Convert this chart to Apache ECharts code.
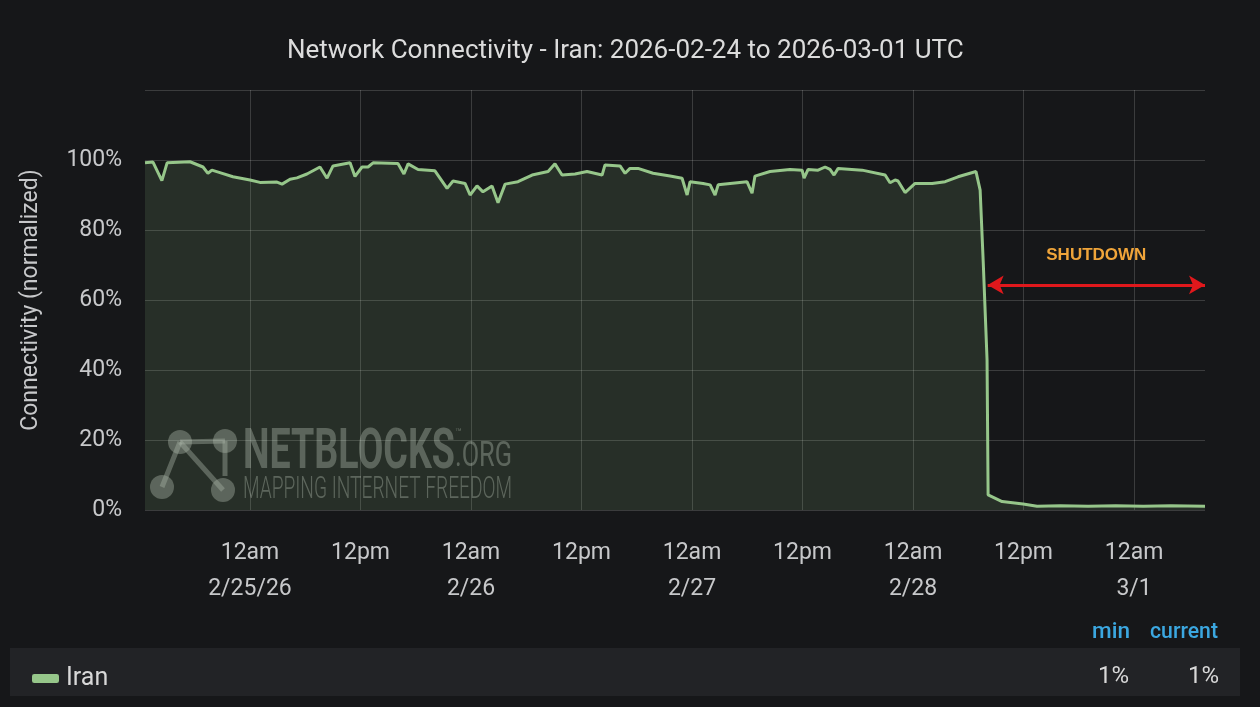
<!DOCTYPE html>
<html>
<head>
<meta charset="utf-8">
<script src="https://cdn.jsdelivr.net/npm/echarts@6/dist/echarts.min.js"></script>
<style>
  html, body { margin: 0; padding: 0; background: #161719; }
  #chart { width: 1260px; height: 707px; }
</style>
</head>
<body>
<div id="chart"></div>
<script>
// sample times (UTC) and normalized connectivity (%)
const times = [
  '2026-02-24 12:36', '2026-02-24 13:28', '2026-02-24 14:26', '2026-02-24 15:00', '2026-02-24 17:29',
  '2026-02-24 18:54', '2026-02-24 19:26', '2026-02-24 19:52', '2026-02-24 20:44', '2026-02-24 22:09',
  '2026-02-25 00:00', '2026-02-25 01:05', '2026-02-25 02:56', '2026-02-25 03:29', '2026-02-25 04:21',
  '2026-02-25 05:06', '2026-02-25 06:11', '2026-02-25 07:36', '2026-02-25 08:22', '2026-02-25 09:01',
  '2026-02-25 10:52', '2026-02-25 11:24', '2026-02-25 12:10', '2026-02-25 12:49', '2026-02-25 13:22',
  '2026-02-25 16:04', '2026-02-25 16:43', '2026-02-25 17:10', '2026-02-25 18:15', '2026-02-25 20:05',
  '2026-02-25 21:24', '2026-02-25 22:03', '2026-02-25 23:21', '2026-02-25 23:54', '2026-02-26 00:39',
  '2026-02-26 01:18', '2026-02-26 02:17', '2026-02-26 02:56', '2026-02-26 03:42', '2026-02-26 05:06',
  '2026-02-26 06:38', '2026-02-26 08:22', '2026-02-26 09:07', '2026-02-26 09:53', '2026-02-26 11:18',
  '2026-02-26 12:36', '2026-02-26 14:14', '2026-02-26 14:33', '2026-02-26 16:11', '2026-02-26 16:44',
  '2026-02-26 17:16', '2026-02-26 18:08', '2026-02-26 19:46', '2026-02-26 21:37', '2026-02-26 22:55',
  '2026-02-26 23:28', '2026-02-26 23:47', '2026-02-27 01:12', '2026-02-27 01:58', '2026-02-27 02:30',
  '2026-02-27 02:50', '2026-02-27 05:58', '2026-02-27 06:31', '2026-02-27 06:50', '2026-02-27 08:28',
  '2026-02-27 10:38', '2026-02-27 11:57', '2026-02-27 12:10', '2026-02-27 12:36', '2026-02-27 13:41',
  '2026-02-27 14:27', '2026-02-27 14:59', '2026-02-27 15:25', '2026-02-27 15:52', '2026-02-27 18:28',
  '2026-02-27 20:58', '2026-02-27 21:30', '2026-02-27 22:03', '2026-02-27 22:22', '2026-02-27 23:08',
  '2026-02-28 00:13', '2026-02-28 02:04', '2026-02-28 03:29', '2026-02-28 04:53', '2026-02-28 06:50',
  '2026-02-28 07:17', '2026-02-28 07:37', '2026-02-28 08:02', '2026-02-28 08:09', '2026-02-28 09:40',
  '2026-02-28 11:57', '2026-02-28 13:28', '2026-02-28 16:00', '2026-02-28 19:00', '2026-02-28 22:00',
  '2026-03-01 01:00', '2026-03-01 04:00', '2026-03-01 07:42'
]
const connectivity = [
  99.2, 99.4, 94.1, 99.2, 99.5, 98.0, 96.2, 97.1, 96.4, 95.2,
  94.3, 93.6, 93.7, 93.1, 94.5, 94.9, 96.0, 98.0, 94.8, 98.3,
  99.2, 95.3, 98.0, 98.0, 99.2, 99.0, 96.0, 98.9, 97.3, 96.9,
  91.9, 94.0, 93.3, 90.0, 92.6, 90.9, 92.6, 87.8, 93.1, 93.8,
  95.7, 96.7, 98.9, 95.7, 96.0, 96.7, 95.7, 98.6, 98.3, 96.2,
  97.6, 97.6, 96.2, 95.4, 94.8, 90.0, 93.8, 93.3, 92.9, 90.0,
  92.9, 93.8, 90.5, 95.4, 96.7, 97.3, 97.1, 94.8, 97.3, 97.1,
  98.0, 97.3, 95.7, 97.6, 97.1, 95.7, 93.5, 94.3, 94.0, 90.7,
  93.3, 93.3, 93.8, 95.2, 96.7, 91.4, 71.0, 43.0, 4.3, 2.4,
  1.7, 1.1, 1.2, 1.1, 1.2, 1.1, 1.2, 1.1
]
// x ticks every 12h
const tickTimes = [
  '2026-02-25 00:00', '2026-02-25 12:00', '2026-02-26 00:00', '2026-02-26 12:00', '2026-02-27 00:00',
  '2026-02-27 12:00', '2026-02-28 00:00', '2026-02-28 12:00', '2026-03-01 00:00'
]
const tickLabels = ['12am\n2/25/26', '12pm', '12am\n2/26', '12pm', '12am\n2/27', '12pm', '12am\n2/28', '12pm', '12am\n3/1']
const yTicks = [0, 20, 40, 60, 80, 100]

// shutdown annotation
const shutdownFrom = '2026-02-28 08:06'
const shutdownTo = '2026-03-01 07:42'
const shutdownLevel = 64.3

// time string (UTC) -> ms
const ts = (s) => new Date(s.replace(' ', 'T') + ':00Z').getTime()
const seriesData = times.map((t, i) => [ts(t), connectivity[i]])
const tickValues = tickTimes.map(ts)
const minVal = Math.round(Math.min(...connectivity))
const curVal = Math.round(connectivity[connectivity.length - 1])

// squeeze text horizontally to a target width (condensed look)
const ctx = document.createElement('canvas').getContext('2d')
const fitX = (text, weight, size, width) => {
  ctx.font = weight + ' ' + size + 'px Roboto'
  return width / ctx.measureText(text).width
}

const chart = echarts.init(document.getElementById('chart'))
const txt = '#c7c8ca'
const grid = 'rgba(255,255,255,0.16)'
const wm = 'rgba(170,175,170,0.42)'

const wmText = (text, x, y, weight, size, width) => ({
  type: 'text', x: x, y: y, scaleX: fitX(text, weight, size, width),
  style: { text: text, fill: wm, fontSize: size, fontWeight: weight, fontFamily: 'Roboto', verticalAlign: 'top' }
})
const headText = (text, cx, width) => ({
  type: 'text', x: cx, y: 632, scaleX: fitX(text, 500, 22, width),
  style: { text: text, fill: '#3ba7e0', fontSize: 22, fontWeight: 500, fontFamily: 'Roboto', align: 'center', verticalAlign: 'middle' }
})

const option = {
  backgroundColor: '#161719',
  animation: false,
  textStyle: { fontFamily: 'Roboto' },
  title: {
    text: 'Network Connectivity - Iran: 2026-02-24 to 2026-03-01 UTC',
    left: 282,
    top: 33,
    textStyle: { color: '#dcdcdc', fontSize: 26, fontWeight: 'normal', fontFamily: 'Roboto' }
  },
  grid: { left: 145, right: 55, top: 90, bottom: 197 },
  legend: {
    left: 27, top: 661,
    icon: 'roundRect',
    itemWidth: 27, itemHeight: 9,
    textStyle: { color: '#d8d8d8', fontSize: 25, fontFamily: 'Roboto', padding: [0, 0, 0, 2] },
    data: ['Iran']
  },
  xAxis: {
    // numeric ms axis so the 12h ticks can be pinned with customValues
    type: 'value',
    min: ts(times[0]),
    max: ts(times[times.length - 1]),
    axisLine: { show: false },
    axisTick: { show: false, customValues: tickValues },
    splitLine: { show: true, lineStyle: { color: grid, width: 1 } },
    axisLabel: {
      customValues: tickValues,
      color: txt, fontSize: 23, lineHeight: 36, margin: 25,
      formatter: (v) => {
        const i = tickValues.indexOf(v)
        return i >= 0 ? tickLabels[i] : ''
      }
    }
  },
  yAxis: {
    type: 'value',
    min: 0, max: 120, interval: 20,
    name: 'Connectivity (normalized)',
    nameLocation: 'middle',
    nameGap: 102,
    nameTextStyle: { color: txt, fontSize: 23 },
    axisLine: { show: false },
    axisTick: { show: false },
    splitLine: { lineStyle: { color: grid, width: 1 } },
    axisLabel: {
      color: txt, fontSize: 23, margin: 23,
      formatter: (v) => yTicks.includes(v) ? v + '%' : ''
    }
  },
  series: [{
    name: 'Iran',
    type: 'line',
    data: seriesData,
    showSymbol: false,
    color: '#96c68a',
    lineStyle: { width: 3, color: '#96c68a' },
    areaStyle: { color: 'rgba(150,198,138,0.2)' },
    markLine: {
      silent: true,
      symbol: ['arrow', 'arrow'],
      symbolSize: [14, 16],
      lineStyle: { color: '#e0181c', width: 3, type: 'solid' },
      label: {
        show: true,
        position: 'insideMiddleTop',
        distance: 21,
        formatter: 'SHUTDOWN',
        color: '#f0a53a', fontSize: 17, fontWeight: 'bold', fontFamily: 'Liberation Sans'
      },
      data: [[
        { coord: [ts(shutdownFrom), shutdownLevel] },
        { coord: [ts(shutdownTo), shutdownLevel] }
      ]]
    }
  }],
  graphic: [
    // legend panel
    { type: 'rect', z: -1, shape: { x: 10, y: 648, width: 1230, height: 48 }, style: { fill: '#222326' } },
    headText('min', 1111, 38),
    headText('current', 1184, 68),
    { type: 'text', x: 1129, y: 677, style: { text: minVal + '%', fill: '#d8d8d8', fontSize: 24, fontFamily: 'Roboto', align: 'right', verticalAlign: 'middle' } },
    { type: 'text', x: 1219, y: 677, style: { text: curVal + '%', fill: '#d8d8d8', fontSize: 24, fontFamily: 'Roboto', align: 'right', verticalAlign: 'middle' } },
    // watermark logo
    { type: 'line', shape: { x1: 180, y1: 442, x2: 225, y2: 441 }, style: { stroke: wm, lineWidth: 5 } },
    { type: 'line', shape: { x1: 180, y1: 442, x2: 162, y2: 487 }, style: { stroke: wm, lineWidth: 5 } },
    { type: 'line', shape: { x1: 180, y1: 442, x2: 223, y2: 490 }, style: { stroke: wm, lineWidth: 5 } },
    { type: 'line', shape: { x1: 225, y1: 441, x2: 225, y2: 476 }, style: { stroke: wm, lineWidth: 5 } },
    { type: 'circle', shape: { cx: 180, cy: 442, r: 12 }, style: { fill: wm } },
    { type: 'circle', shape: { cx: 225, cy: 441, r: 12 }, style: { fill: wm } },
    { type: 'circle', shape: { cx: 162, cy: 487, r: 12 }, style: { fill: wm } },
    { type: 'circle', shape: { cx: 223, cy: 490, r: 12 }, style: { fill: wm } },
    wmText('NETBLOCKS', 243, 426, 'bold', 56, 212),
    { type: 'text', x: 455, y: 433, style: { text: '™', fill: wm, fontSize: 11, fontFamily: 'Roboto', verticalAlign: 'middle' } },
    wmText('.ORG', 455, 440, 'normal', 35, 57),
    wmText('MAPPING INTERNET FREEDOM', 243, 475, 300, 31, 269)
  ]
}
chart.setOption(option)
</script>
</body>
</html>
